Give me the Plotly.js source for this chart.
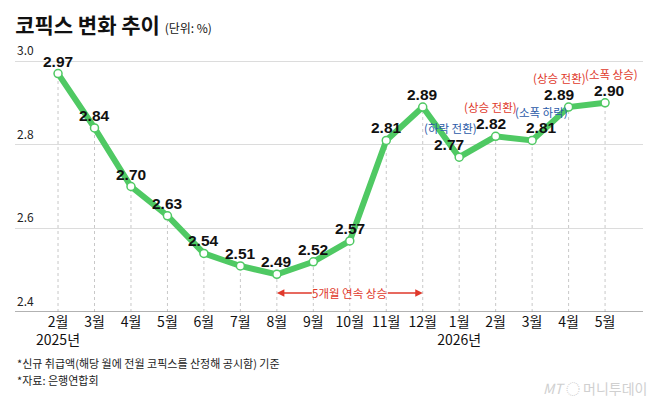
<!DOCTYPE html>
<html><head><meta charset="utf-8">
<script src="https://cdn.plot.ly/plotly-3.0.1.min.js"></script>
<style>html,body{margin:0;padding:0;background:#fff}#chart{width:658px;height:401px}</style>
</head><body><div id="chart"></div>
<script>
const months = ['2월','3월','4월','5월','6월','7월','8월','9월','10월','11월','12월','1월','2월','3월','4월','5월'];
const years = ['2025년','','','','','','','','','','','2026년','','','',''];
const cofix = [2.97,2.84,2.70,2.63,2.54,2.51,2.49,2.52,2.57,2.81,2.89,2.77,2.82,2.81,2.89,2.90];
const yTicks = [2.4,2.6,2.8,3.0];
const notes = [
  {idx:11, text:'(하락 전환)', color:'#2b5aa8'},
  {idx:12, text:'(상승 전환)', color:'#e0392b'},
  {idx:13, text:'(소폭 하락)', color:'#2b5aa8'},
  {idx:14, text:'(상승 전환)', color:'#e0392b'},
  {idx:15, text:'(소폭 상승)', color:'#e0392b'}
];
const footnotes = ['*신규 취급액(해당 월에 전월 코픽스를 산정해 공시함) 기준', '*자료: 은행연합회'];
const streakText = '5개월 연속 상승';
const streakStart = 6, streakEnd = 10;

const xs = cofix.map((_, i) => i);
const ticktext = months.map((m, i) => years[i] ? m + '<br>' + years[i] : m);
const FONT = 'Noto Sans CJK KR, Liberation Sans, sans-serif';
const NUMFONT = 'Liberation Sans, Arial, sans-serif';
const yMin = 2.4, yMax = 3.0263;

const shapes = cofix.map((v, i) => ({
  type:'line', xref:'x', yref:'y', x0:i, x1:i, y0:yMin, y1:v,
  line:{color:'#c8c8c8', width:1, dash:'dot'}, layer:'below'
}));

const annotations = [];
yTicks.forEach(t => annotations.push({
  xref:'paper', yref:'y', x:0, y:t, xanchor:'left', yanchor:'bottom', yshift:1,
  text:t.toFixed(1), showarrow:false, font:{family:FONT, size:12, color:'#222'}
}));
// value labels (horizontal nudges only for readability)
const labelNudge = {11:-10, 12:-5, 13:9, 14:-9, 15:4};
cofix.forEach((v, i) => annotations.push({
  x:i, y:v, xref:'x', yref:'y', text:'<b>' + v.toFixed(2) + '</b>', showarrow:false,
  yanchor:'bottom', yshift:2, xshift:labelNudge[i] || 0,
  font:{family:NUMFONT, size:15.5, color:'#111'}
}));
// per-note offsets (label placement around points)
const noteOffsets = {11:[-9,29], 12:[-5,29], 13:[9,28], 14:[-9,29], 15:[6,29]};
notes.forEach(n => annotations.push({
  x:n.idx, y:cofix[n.idx], xref:'x', yref:'y', text:n.text, showarrow:false,
  xshift:noteOffsets[n.idx][0], yshift:noteOffsets[n.idx][1],
  font:{family:FONT, size:11.5, color:n.color}
}));
const streakMid = (streakStart + streakEnd) / 2;
annotations.push({x:streakMid, y:yMin, xref:'x', yref:'y', yshift:19, text:streakText,
  showarrow:false, font:{family:FONT, size:11.5, color:'#e0392b'}});
annotations.push({x:streakStart, y:yMin, ax:streakMid-1.0, ay:yMin, xref:'x', yref:'y', axref:'x', ayref:'y',
  yshift:19, text:'', showarrow:true, arrowhead:2, arrowsize:1, arrowwidth:1.5, arrowcolor:'#e0392b'});
annotations.push({x:streakEnd, y:yMin, ax:streakMid+1.0, ay:yMin, xref:'x', yref:'y', axref:'x', ayref:'y',
  yshift:19, text:'', showarrow:true, arrowhead:2, arrowsize:1, arrowwidth:1.5, arrowcolor:'#e0392b'});
const footY = [-0.1947, -0.2595];
footnotes.forEach((f, i) => annotations.push({xref:'paper', yref:'paper', x:0, y:footY[i],
  xanchor:'left', yanchor:'middle', text:f, showarrow:false, font:{family:FONT, size:11, color:'#222'}}));
annotations.push({xref:'paper', yref:'paper', x:1.01, y:-0.29, xanchor:'right', yanchor:'middle',
  text:'<i>MT</i> ◌ 머니투데이', showarrow:false, font:{family:FONT, size:14, color:'#d0d0d0'}});

const trace = {
  x: xs, y: cofix, type:'scatter', mode:'lines+markers',
  line:{color:'#4fc963', width:6},
  marker:{size:8, color:'#fff', line:{color:'#4fc963', width:1.5}},
  cliponaxis:false, hoverinfo:'skip'
};

const layout = {
  width:658, height:401,
  margin:{l:15, r:15, t:50, b:89},
  paper_bgcolor:'#fff', plot_bgcolor:'#fff',
  showlegend:false,
  title:{text:'<b>코픽스 변화 추이</b> <span style="font-size:12px;font-weight:normal">(단위: %)</span>',
    x:0.023, xanchor:'left', y:0.935, yanchor:'middle', font:{family:FONT, size:21, color:'#111'}},
  xaxis:{range:[-1.18, 16.04], tickvals:xs, ticktext:ticktext, tickangle:0, showgrid:false, zeroline:false,
    showline:false, ticks:'', tickfont:{family:FONT, size:14, color:'#111'}, fixedrange:true},
  yaxis:{range:[yMin, yMax], tickvals:yTicks, showticklabels:false, showgrid:true, gridcolor:'#dcdcdc',
    gridwidth:1, zeroline:false, showline:false, ticks:'', fixedrange:true},
  shapes: shapes.concat([{type:'line', xref:'paper', yref:'y', x0:0, x1:1, y0:yMin, y1:yMin,
    line:{color:'#999', width:1.5}}]),
  annotations: annotations
};
Plotly.newPlot('chart', [trace], layout, {displayModeBar:false, staticPlot:true});
</script></body></html>
